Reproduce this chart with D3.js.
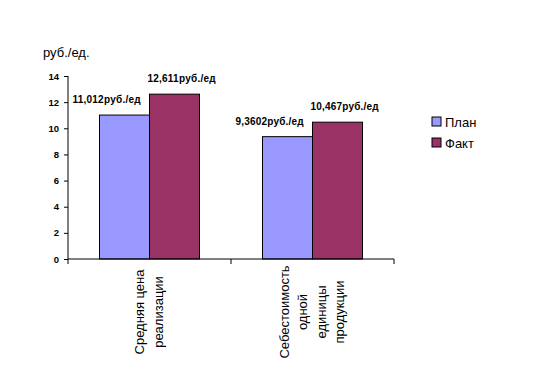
<!DOCTYPE html>
<html>
<head>
<meta charset="utf-8">
<script src="https://cdn.jsdelivr.net/npm/d3@7"></script>
<style>
  body { margin: 0; background: #fff; }
  svg text { font-family: "Liberation Sans", Arial, sans-serif; }
</style>
</head>
<body>
<svg id="chart" width="551" height="372"></svg>
<script>
// data
const categories = [
    ['Средняя цена', 'реализации'],
    ['Себестоимость', 'одной', 'единицы', 'продукции']
];
const series = ['План', 'Факт'];
const planValues = [11.012, 9.3602];
const factValues = [12.611, 10.467];
const planLabels = ['11,012руб./ед', '9,3602руб./ед'];
const factLabels = ['12,611руб./ед', '10,467руб./ед'];
const yTicks = [0, 2, 4, 6, 8, 10, 12, 14];
const colors = ['#9999ff', '#993366'];

const svg = d3.select('#chart');
const plotLeft = 68, plotRight = 394, plotTop = 76, plotBottom = 259;

var x = d3.scaleBand()
    .domain(d3.range(categories.length))
    .range([plotLeft, plotRight]);
var inner = d3.scaleBand()
    .domain(series)
    .range([0, x.bandwidth()])
    .paddingOuter(0.63);
var y = d3.scaleLinear()
    .domain([0, 14])
    .range([plotBottom, plotTop]);

// y axis
var yAxis = svg.append('g')
    .attr('transform', `translate(${plotLeft},0)`)
    .call(d3.axisLeft(y).tickValues(yTicks).tickSize(4).tickPadding(5));
yAxis.select('.domain').attr('stroke', '#000').attr('d', `M0,${plotTop}V${plotBottom}`);
yAxis.selectAll('text').attr('font-size', 9.5).attr('font-weight', 'bold').attr('fill', '#000');

// bars
var rows = categories.map((c, i) => ({i, values: [planValues[i], factValues[i]], labels: [planLabels[i], factLabels[i]]}));
var groups = svg.selectAll('g.grp')
    .data(rows)
    .enter()
    .append('g')
    .attr('class', 'grp')
    .attr('transform', d => `translate(${x(d.i)},0)`);

groups.selectAll('rect')
    .data(d => d.values.map((v, k) => ({v, k, label: d.labels[k]})))
    .enter()
    .append('rect')
    .attr('x', d => inner(series[d.k]))
    .attr('width', inner.bandwidth())
    .attr('y', d => y(d.v))
    .attr('height', d => plotBottom - y(d.v))
    .attr('fill', d => colors[d.k])
    .attr('stroke', '#000')
    .attr('stroke-width', 1);

// value labels (excel pushes them apart a bit)
groups.selectAll('text.val')
    .data(d => d.values.map((v, k) => ({v, k, label: d.labels[k]})))
    .enter()
    .append('text')
    .attr('class', 'val')
    .attr('x', d => inner(series[d.k]) + inner.bandwidth() / 2 + (d.k == 0 ? -18 : 7))
    .attr('y', d => y(d.v) - 12)
    .attr('text-anchor', 'middle')
    .attr('font-size', 10)
    .attr('font-weight', 'bold')
    .attr('textLength', d => d.label.length * 5.25)
    .text(d => d.label);

// x axis
svg.append('line')
    .attr('x1', plotLeft).attr('x2', plotRight)
    .attr('y1', plotBottom).attr('y2', plotBottom)
    .attr('stroke', '#000');
svg.selectAll('line.xt')
    .data(d3.range(categories.length + 1))
    .enter()
    .append('line')
    .attr('class', 'xt')
    .attr('x1', i => plotLeft + i * x.step()).attr('x2', i => plotLeft + i * x.step())
    .attr('y1', plotBottom).attr('y2', plotBottom + 5)
    .attr('stroke', '#000');

// category labels, rotated
categories.forEach((lines, i) => {
    var cx = x(i) + x.bandwidth() / 2;
    var step = 18.5;
    lines.forEach((ln, j) => {
        var lx = cx + (j - (lines.length - 1) / 2) * step + 4;
        svg.append('text')
            .attr('transform', `translate(${lx},312) rotate(-90)`)
            .attr('text-anchor', 'middle')
            .attr('font-size', 13)
            .text(ln);
    });
});

// y title
svg.append('text')
    .attr('x', 43).attr('y', 57)
    .attr('font-size', 13)
    .text('руб./ед.');

// legend
var legend = svg.selectAll('g.leg')
    .data(series)
    .enter()
    .append('g')
    .attr('class', 'leg')
    .attr('transform', (d, i) => `translate(432,${117 + i * 21})`);
legend.append('rect')
    .attr('width', 9).attr('height', 9)
    .attr('fill', (d, i) => colors[i])
    .attr('stroke', '#000');
legend.append('text')
    .attr('x', 13).attr('y', 9.5)
    .attr('font-size', 13)
    .text(d => d);
</script>
</body>
</html>
